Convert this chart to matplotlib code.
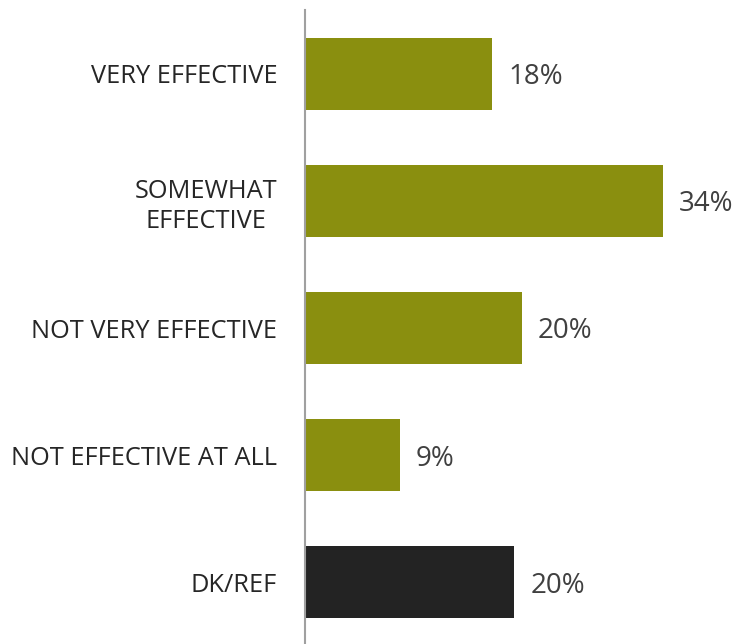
import matplotlib.pyplot as plt

categories = ["VERY EFFECTIVE", "SOMEWHAT\nEFFECTIVE", "NOT VERY EFFECTIVE",
              "NOT EFFECTIVE AT ALL", "DK/REF"]
values = [17.8, 34.0, 20.6, 9.0, 19.9]
value_labels = ["18%", "34%", "20%", "9%", "20%"]
colors = ["#8a8f0f", "#8a8f0f", "#8a8f0f", "#8a8f0f", "#232323"]

plt.rcParams['font.family'] = ['Open Sans', 'DejaVu Sans']

fig = plt.figure(figsize=(7.37, 6.44), dpi=100)
ax = fig.add_axes([305 / 737, -2 / 644, 421 / 737, 636 / 644])

y = list(range(len(categories)))
ax.barh(y, values, height=0.566, color=colors)
ax.set_ylim(len(categories) - 0.5, -0.5)
ax.set_xlim(0, 40)

for yi, v, lab in zip(y, values, value_labels):
    ax.text(v + 1.5, yi, lab, va="center_baseline", ha="left", fontsize=20,
            color="#404040")

ax.set_yticks(y)
ax.set_yticklabels(categories, fontsize=18.3, color="#262626", linespacing=1.3,
                   multialignment="center")
ax.tick_params(axis="y", length=0, pad=20)
ax.set_xticks([])
for s in ["top", "right", "bottom"]:
    ax.spines[s].set_visible(False)
ax.spines["left"].set_color("#a0a0a0")
ax.spines["left"].set_linewidth(1.5)

fig.savefig("out.png", dpi=100)
